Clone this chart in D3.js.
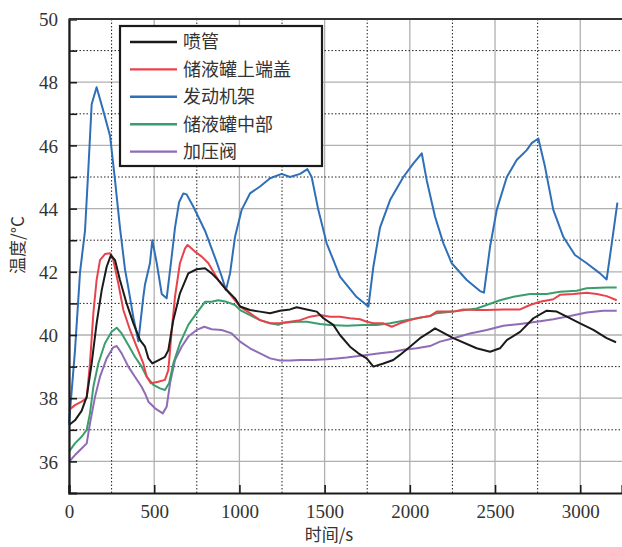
<!DOCTYPE html>
<html>
<head>
<meta charset="utf-8">
<script src="https://cdn.jsdelivr.net/npm/d3@7"></script>
<style>
  body { margin: 0; background: #fff; }
  svg { display: block; }
</style>
</head>
<body>
<div id="plot"></div>
<script>
// temperature curves, [time s, temp °C]
const nozzle = [[0,37.15],[35,37.3],[74,37.6],[104,38.05],[133,39.1],[162,40.37],[192,41.42],[221,42.16],[246,42.53],[270,42.37],[299,41.74],[338,41.0],[378,40.37],[417,39.84],[446,39.63],[466,39.26],[489,39.1],[524,39.2],[563,39.31],[583,39.52],[612,40.47],[651,41.32],[700,41.95],[749,42.08],[798,42.11],[837,41.95],[876,41.74],[915,41.48],[974,41.16],[1004,40.9],[1062,40.79],[1121,40.74],[1180,40.69],[1238,40.77],[1297,40.81],[1336,40.88],[1395,40.81],[1454,40.74],[1493,40.53],[1551,40.32],[1590,40.0],[1649,39.63],[1698,39.42],[1747,39.26],[1786,39.0],[1845,39.1],[1903,39.21],[1942,39.37],[2001,39.63],[2060,39.9],[2118,40.1],[2148,40.21],[2255,39.9],[2392,39.58],[2471,39.47],[2529,39.58],[2569,39.84],[2647,40.1],[2725,40.53],[2803,40.77],[2862,40.74],[2921,40.58],[2999,40.37],[3077,40.16],[3155,39.9],[3210,39.77]];

const tankTop = [[0,37.63],[35,37.78],[74,37.89],[104,38.0],[123,39.1],[143,40.69],[162,41.74],[182,42.37],[211,42.56],[241,42.59],[260,42.37],[289,41.64],[319,40.79],[358,40.16],[397,39.63],[436,39.1],[456,38.68],[481,38.47],[524,38.52],[563,38.58],[583,38.89],[603,40.16],[622,41.21],[651,42.27],[681,42.74],[696,42.85],[739,42.64],[779,42.48],[818,42.27],[847,42.0],[876,41.74],[925,41.42],[974,41.1],[1004,40.9],[1062,40.69],[1121,40.47],[1180,40.37],[1238,40.37],[1297,40.42],[1356,40.47],[1414,40.58],[1473,40.63],[1532,40.58],[1590,40.58],[1649,40.53],[1708,40.5],[1747,40.42],[1786,40.37],[1845,40.37],[1894,40.26],[1942,40.37],[2001,40.47],[2060,40.55],[2118,40.6],[2158,40.74],[2255,40.74],[2314,40.81],[2392,40.79],[2451,40.79],[2549,40.81],[2647,40.81],[2705,40.95],[2764,41.05],[2842,41.13],[2881,41.27],[2959,41.3],[3038,41.34],[3097,41.3],[3155,41.23],[3214,41.1]];

const frame = [[0,37.2],[35,39.5],[65,42.0],[94,43.3],[113,45.2],[133,47.3],[162,47.84],[201,47.1],[241,46.3],[270,44.9],[299,43.4],[329,42.06],[348,41.5],[378,40.55],[407,39.8],[436,41.2],[446,41.6],[475,42.27],[489,43.0],[515,42.27],[544,41.3],[573,41.16],[603,42.5],[622,43.4],[646,44.2],[671,44.48],[690,44.45],[730,44.06],[798,43.3],[867,42.3],[896,41.85],[921,41.42],[945,41.95],[974,43.1],[1013,43.96],[1062,44.48],[1121,44.7],[1180,44.96],[1248,45.1],[1297,45.0],[1356,45.1],[1399,45.25],[1424,45.0],[1463,43.96],[1512,42.9],[1590,41.85],[1688,41.2],[1757,40.9],[1786,42.16],[1825,43.4],[1884,44.27],[1962,45.0],[2021,45.43],[2070,45.75],[2099,44.9],[2148,43.74],[2197,42.9],[2246,42.27],[2334,41.74],[2412,41.39],[2435,41.34],[2471,42.8],[2510,43.96],[2569,45.0],[2627,45.54],[2686,45.85],[2715,46.07],[2754,46.22],[2793,45.33],[2842,43.96],[2901,43.1],[2969,42.53],[3038,42.27],[3116,41.95],[3155,41.76],[3185,42.9],[3218,44.19]];

const tankMid = [[0,36.31],[35,36.57],[74,36.78],[104,37.0],[123,37.52],[143,38.36],[172,39.1],[211,39.74],[250,40.1],[280,40.23],[309,40.05],[348,39.68],[387,39.31],[426,39.0],[456,38.68],[495,38.42],[534,38.31],[563,38.26],[587,38.47],[612,39.1],[651,39.74],[700,40.32],[749,40.69],[798,41.05],[837,41.05],[876,41.1],[925,41.05],[974,40.95],[1004,40.79],[1062,40.63],[1121,40.47],[1180,40.37],[1229,40.32],[1258,40.39],[1336,40.42],[1395,40.42],[1473,40.35],[1532,40.32],[1629,40.29],[1727,40.32],[1806,40.32],[1884,40.37],[1962,40.45],[2040,40.53],[2118,40.6],[2158,40.69],[2255,40.74],[2392,40.84],[2451,40.95],[2529,41.1],[2608,41.21],[2705,41.3],[2803,41.3],[2881,41.37],[2979,41.4],[3038,41.48],[3155,41.5],[3214,41.5]];

const valve = [[0,35.99],[35,36.2],[74,36.41],[104,36.57],[123,37.2],[153,38.05],[182,38.68],[221,39.26],[260,39.61],[280,39.65],[309,39.42],[348,39.0],[387,38.68],[426,38.36],[446,38.15],[466,37.89],[505,37.68],[550,37.52],[573,37.73],[593,38.47],[622,39.21],[661,39.63],[700,39.95],[749,40.16],[794,40.26],[837,40.18],[896,40.16],[955,40.05],[1004,39.79],[1062,39.58],[1121,39.42],[1180,39.26],[1238,39.19],[1297,39.19],[1356,39.21],[1434,39.21],[1512,39.23],[1571,39.26],[1629,39.29],[1688,39.33],[1747,39.37],[1825,39.42],[1903,39.47],[1962,39.53],[2040,39.58],[2118,39.65],[2177,39.79],[2255,39.9],[2353,40.05],[2451,40.16],[2549,40.29],[2647,40.35],[2745,40.42],[2842,40.5],[2940,40.6],[3038,40.71],[3135,40.77],[3214,40.77]];

const seriesNames = ["喷管", "储液罐上端盖", "发动机架", "储液罐中部", "加压阀"];
const seriesColors = ["#1a1a1a", "#e8434a", "#2f6fb8", "#3a9e6c", "#8f6cb6"];
const seriesData = [nozzle, tankTop, frame, tankMid, valve];
// drawing order: blue under the others
const drawOrder = [2, 4, 3, 1, 0];

const xMajor = [0, 500, 1000, 1500, 2000, 2500, 3000];
const xMinor = [250, 750, 1250, 1750, 2250, 2750];
const yMajor = [36, 38, 40, 42, 44, 46, 48, 50];
const yMinor = [37, 39, 41, 43, 45, 47, 49];

const margin = { top: 19, right: 0, bottom: 54, left: 69 };
const W = 622, H = 547;
const width = 553, height = H - margin.top - margin.bottom;

const svg = d3.select("#plot").append("svg")
    .attr("width", W).attr("height", H);
const g = svg.append("g")
    .attr("transform", "translate(" + margin.left + "," + margin.top + ")");

const x = d3.scaleLinear().domain([0, 3245]).range([0, width]);
const y = d3.scaleLinear().domain([35, 50]).range([height, 0]);

// grid
g.selectAll(".gmx").data(xMajor).enter().append("line")
    .attr("x1", d => x(d)).attr("x2", d => x(d))
    .attr("y1", 0).attr("y2", height)
    .attr("stroke", "#b0b0b0").attr("stroke-width", 1.3);
g.selectAll(".gmy").data(yMajor).enter().append("line")
    .attr("x1", 0).attr("x2", width)
    .attr("y1", d => y(d)).attr("y2", d => y(d))
    .attr("stroke", "#b0b0b0").attr("stroke-width", 1.3);
g.selectAll(".gnx").data(xMinor).enter().append("line")
    .attr("x1", d => x(d)).attr("x2", d => x(d))
    .attr("y1", 0).attr("y2", height)
    .attr("stroke", "#222").attr("stroke-width", 1)
    .attr("stroke-dasharray", "1.5,2");
g.selectAll(".gny").data(yMinor).enter().append("line")
    .attr("x1", 0).attr("x2", width)
    .attr("y1", d => y(d)).attr("y2", d => y(d))
    .attr("stroke", "#222").attr("stroke-width", 1)
    .attr("stroke-dasharray", "1.5,2");

// curves
const line = d3.line().x(d => x(d[0])).y(d => y(d[1]));
drawOrder.forEach(i => {
    g.append("path")
        .datum(seriesData[i])
        .attr("fill", "none")
        .attr("stroke", seriesColors[i])
        .attr("stroke-width", 2)
        .attr("stroke-linejoin", "round")
        .attr("d", line);
});

// axes
const fontNum = "'Liberation Serif', 'Times New Roman', serif";
const xAxis = g.append("g")
    .attr("transform", "translate(0," + height + ")")
    .call(d3.axisBottom(x).tickValues(xMajor).tickSize(-8).tickPadding(12).tickFormat(d3.format("d")));
const yAxis = g.append("g")
    .call(d3.axisLeft(y).tickValues(d3.range(36, 51)).tickSize(-8).tickPadding(11)
        .tickFormat(d => yMajor.includes(d) ? d : ""));
[xAxis, yAxis].forEach(a => {
    a.select(".domain").attr("stroke", "#1a1a1a").attr("stroke-width", 2.2);
    a.selectAll(".tick line").attr("stroke", "#1a1a1a").attr("stroke-width", 1.6);
    a.selectAll(".tick text").attr("fill", "#333")
        .style("font-family", fontNum).style("font-size", "19px");
});
yAxis.selectAll(".tick text").attr("dy", "0.35em");

// top border
g.append("line")
    .attr("x1", 0).attr("x2", width).attr("y1", 0).attr("y2", 0)
    .attr("stroke", "#333").attr("stroke-width", 1.8);

// axis titles
const fontCJK = "'Noto Sans CJK SC', sans-serif";
svg.append("text")
    .attr("transform", "translate(" + 24 + "," + 245 + ") rotate(-90)")
    .attr("text-anchor", "middle")
    .attr("fill", "#333")
    .style("font-family", fontCJK).style("font-size", "17px")
    .text("温度/°C");
svg.append("text")
    .attr("x", 329).attr("y", 541)
    .attr("text-anchor", "middle")
    .attr("fill", "#333")
    .style("font-family", fontCJK).style("font-size", "17px")
    .text("时间/s");

// legend
const legend = svg.append("g").attr("transform", "translate(120,26)");
legend.append("rect")
    .attr("width", 202).attr("height", 140)
    .attr("fill", "#fff").attr("stroke", "#1a1a1a").attr("stroke-width", 2.2);
const rows = legend.selectAll(".row").data(seriesNames).enter().append("g")
    .attr("transform", (d, i) => "translate(0," + (16 + i * 27.4) + ")");
rows.append("line")
    .attr("x1", 10).attr("x2", 57).attr("y1", 0).attr("y2", 0)
    .attr("stroke", (d, i) => seriesColors[i]).attr("stroke-width", 2.4);
rows.append("text")
    .attr("x", 63).attr("y", 0).attr("dy", "0.36em")
    .attr("fill", "#333")
    .style("font-family", fontCJK).style("font-size", "18px")
    .text(d => d);
</script>
</body>
</html>
